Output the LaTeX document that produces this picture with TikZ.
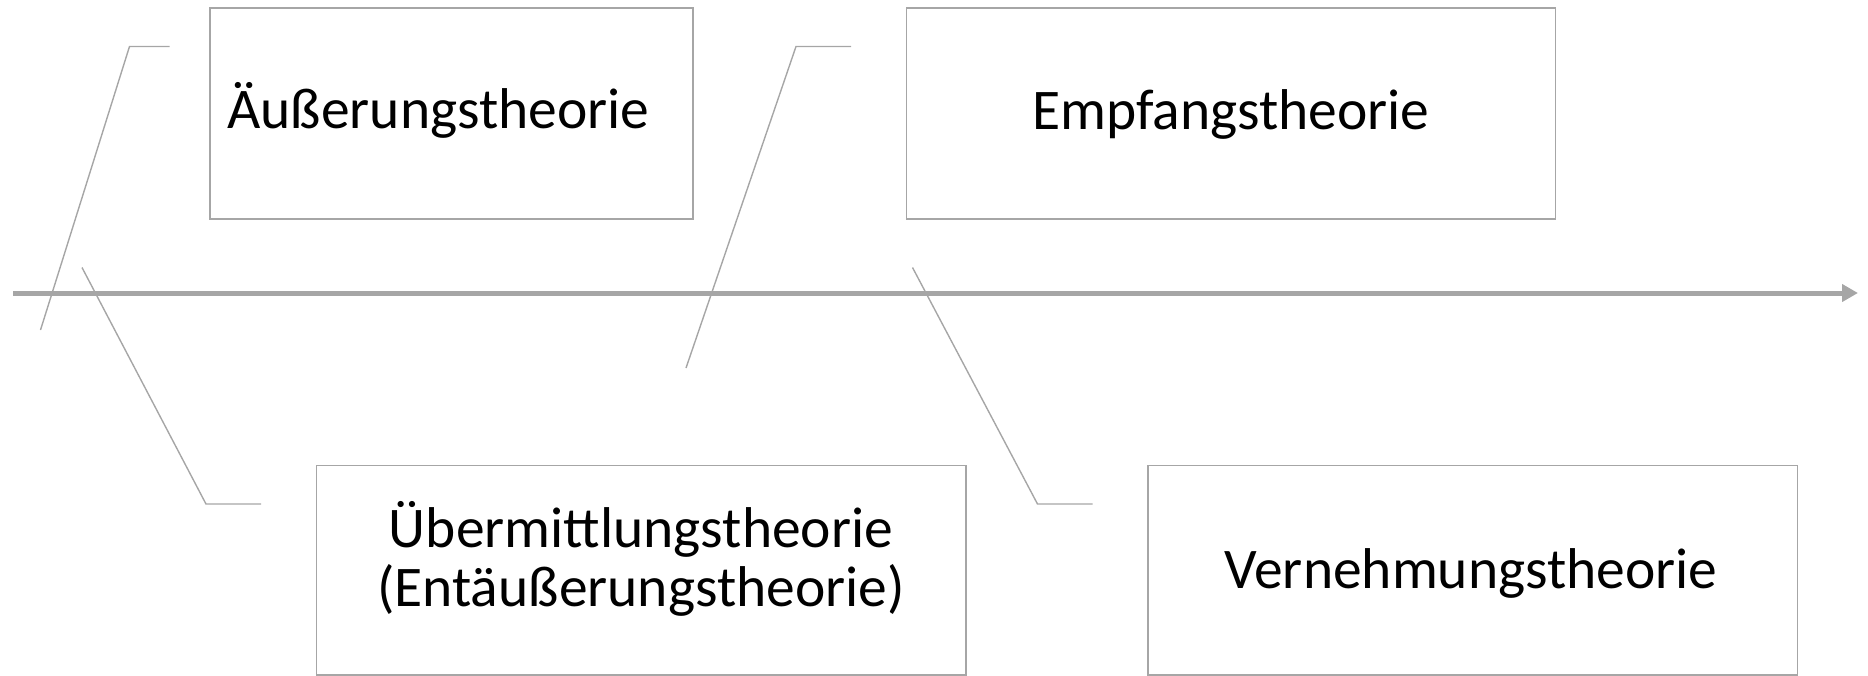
\documentclass[tikz,border=0pt]{standalone}
\usepackage{fontspec}
\setmainfont{Carlito}
\usetikzlibrary{arrows.meta}
\definecolor{linegray}{HTML}{A6A6A6}
\begin{document}
\begin{tikzpicture}[x=1pt,y=-1pt,
  box/.style={draw=linegray,line width=1.7pt,fill=none,inner sep=0pt,anchor=north west},
  lbl/.style={font=\fontsize{57.5}{58.5}\selectfont,inner sep=0pt,anchor=base,align=center,text=black},
  brk/.style={draw=linegray,line width=1.4pt},
  axis/.style={draw=linegray,line width=5pt,-{Triangle[length=16pt,width=17pt]}}]
\useasboundingbox (0,0) rectangle (1868,675);
% boxes
\node[box,minimum width=483pt,minimum height=211pt] (bA) at (209,7) {};
\node[box,minimum width=649pt,minimum height=211pt] (bE) at (905.5,7) {};
\node[box,minimum width=649.5pt,minimum height=209.5pt] (bU) at (315.5,464.5) {};
\node[box,minimum width=649.5pt,minimum height=209.5pt] (bV) at (1147,464.5) {};
% labels
\node[lbl] (tA) at (438.5,128.5) {Äußerungstheorie};
\node[lbl] (tE) at (1231,129) {Empfangstheorie};
\node[lbl] (tU) at (641,606) {Übermittlungstheorie\\(Entäußerungstheorie)};
\node[lbl] (tV) at (1471,588) {Vernehmungstheorie};
% axis
\coordinate (axs) at (13,293);
\coordinate (axe) at (1858,293);
\draw[axis] (axs) -- (axe);
% brackets
\coordinate (b1a) at (169.5,46.5);
\coordinate (b1b) at (129.5,46.5);
\coordinate (b1c) at (40.5,330);
\draw[brk] (b1a) -- (b1b) -- (b1c);
\coordinate (b2a) at (82,267.5);
\coordinate (b2b) at (206,504);
\coordinate (b2c) at (261,504);
\draw[brk] (b2a) -- (b2b) -- (b2c);
\coordinate (b3a) at (851,46.5);
\coordinate (b3b) at (796,46.5);
\coordinate (b3c) at (686,368);
\draw[brk] (b3a) -- (b3b) -- (b3c);
\coordinate (b4a) at (912.5,267.5);
\coordinate (b4b) at (1037.5,504);
\coordinate (b4c) at (1092.5,504);
\draw[brk] (b4a) -- (b4b) -- (b4c);
\end{tikzpicture}
\end{document}
